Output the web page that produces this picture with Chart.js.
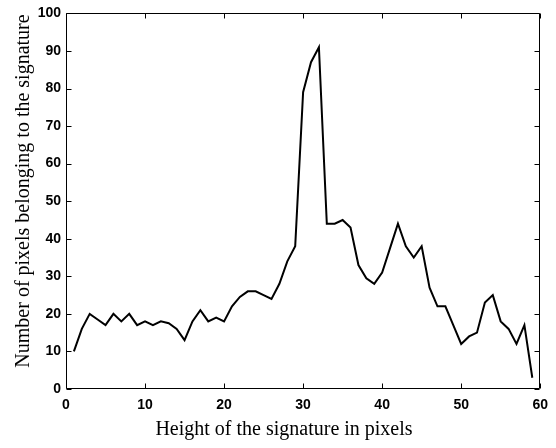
<!DOCTYPE html>
<html>
<head>
<meta charset="utf-8">
<script src="https://cdn.jsdelivr.net/npm/chart.js@4/dist/chart.umd.min.js"></script>
<style>
  html, body { margin: 0; padding: 0; background: #fff; }
  #wrap { width: 556px; height: 448px; position: relative; }
</style>
</head>
<body>
<div id="wrap"><canvas id="c" width="556" height="448"></canvas></div>
<script>
const heights = [1,2,3,4,5,6,7,8,9,10,11,12,13,14,15,16,17,18,19,20,21,22,23,24,25,26,27,28,29,30,31,32,33,34,35,36,37,38,39,40,41,42,43,44,45,46,47,48,49,50,51,52,53,54,55,56,57,58,59];
const pixelCounts = [10,16,20,18.5,17,20,18,20,17,18,17,18,17.5,16,13,18,21,18,19,18,22,24.5,26,26,25,24,28,34,38,79,87,91,44,44,45,43,33,29.5,28,31,37.5,44,38,35,38,27,22,22,17,12,14,15,23,25,18,16,12,17,3];
const xTicks = [0,10,20,30,40,50,60];
const yTicks = [0,10,20,30,40,50,60,70,80,90,100];
const xTitle = 'Height of the signature in pixels';
const yTitle = 'Number of pixels belonging to the signature';

const framePlugin = {
  id: 'frame',
  afterDraw(chart) {
    const ctx = chart.ctx;
    const a = chart.chartArea;
    const xs = chart.scales.x, ys = chart.scales.y;
    ctx.save();
    ctx.lineWidth = 1;
    ctx.strokeStyle = '#000';
    const L = Math.round(a.left) + 0.5, R = Math.round(a.right) - 0.5;
    const T = Math.round(a.top) + 0.5, B = Math.round(a.bottom) - 0.5;
    ctx.beginPath();
    ctx.moveTo(L, T); ctx.lineTo(R, T); ctx.lineTo(R, B); ctx.lineTo(L, B); ctx.closePath();
    ctx.stroke();
    const tl = 5;
    ctx.beginPath();
    xTicks.forEach(v => {
      const px = Math.round(xs.getPixelForValue(v)) + 0.5;
      ctx.moveTo(px, B); ctx.lineTo(px, B - tl);
      ctx.moveTo(px, T); ctx.lineTo(px, T + tl);
    });
    yTicks.forEach(v => {
      const py = Math.round(ys.getPixelForValue(v)) + 0.5;
      ctx.moveTo(L, py); ctx.lineTo(L + tl, py);
      ctx.moveTo(R, py); ctx.lineTo(R - tl, py);
    });
    ctx.stroke();
    // axis titles
    ctx.fillStyle = '#000';
    ctx.font = '20px "Liberation Serif", "Times New Roman", serif';
    ctx.textAlign = 'center';
    ctx.textBaseline = 'alphabetic';
    ctx.fillText(xTitle, 284, 435);
    ctx.translate(28.5, 191);
    ctx.rotate(-Math.PI / 2);
    ctx.fillText(yTitle, 0, 0);
    ctx.restore();
  }
};

new Chart(document.getElementById('c'), {
  type: 'line',
  data: {
    datasets: [{
      data: heights.map((h, i) => ({ x: h, y: pixelCounts[i] })),
      borderColor: '#000',
      borderWidth: 2,
      pointRadius: 0,
      tension: 0,
      fill: false
    }]
  },
  options: {
    responsive: false,
    animation: false,
    layout: { padding: { left: 0, right: 10, top: 10, bottom: 0 } },
    plugins: { legend: { display: false }, tooltip: { enabled: false } },
    scales: {
      x: {
        type: 'linear', min: 0, max: 60,
        afterFit(s) { s.height = 59; },
        afterBuildTicks(s) { s.ticks = xTicks.map(v => ({ value: v })); },
        grid: { display: false, drawTicks: false },
        border: { display: false },
        ticks: { padding: 8, color: '#000', font: { family: '"Liberation Sans", Arial, sans-serif', size: 14, weight: 'bold' }, maxRotation: 0 }
      },
      y: {
        type: 'linear', min: 0, max: 100,
        afterFit(s) { s.width = 66; },
        afterBuildTicks(s) { s.ticks = yTicks.map(v => ({ value: v })); },
        grid: { display: false, drawTicks: false },
        border: { display: false },
        ticks: { padding: 5, color: '#000', font: { family: '"Liberation Sans", Arial, sans-serif', size: 14, weight: 'bold' } }
      }
    }
  },
  plugins: [framePlugin]
});
</script>
</body>
</html>
